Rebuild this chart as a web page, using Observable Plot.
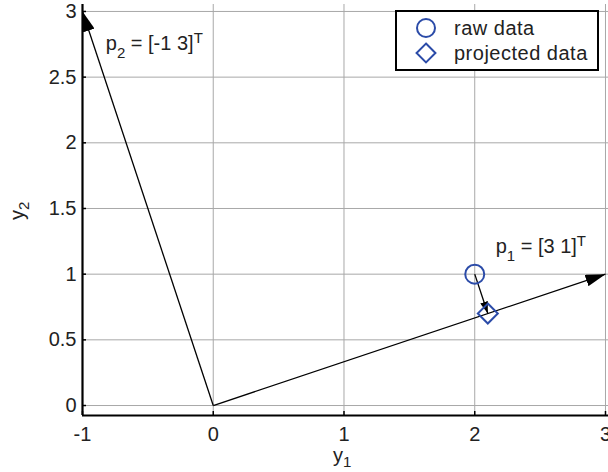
<!DOCTYPE html>
<html><head><meta charset="utf-8">
<script src="https://cdn.jsdelivr.net/npm/d3@7"></script>
<script src="https://cdn.jsdelivr.net/npm/@observablehq/plot@0.6"></script>
<style>
body{margin:0;background:#fff;}
#wrap{position:relative;width:608px;height:472px;font-family:"Liberation Sans",Arial,sans-serif;}
#legend{position:absolute;left:395px;top:10px;width:200px;height:57px;border:2px solid #000;background:#fff;}
#legend .row{position:absolute;left:0;height:24px;display:flex;align-items:center;font-size:20px;letter-spacing:0.5px;color:#222;white-space:nowrap;}
#legend svg{margin-left:18px;margin-right:17px;}
</style></head><body><div id="wrap"><div id="legend"></div></div>
<script>
// ---- data ----
const xDomain = [-1, 3.023];
const yDomain = [-0.076, 3.053];
const xTicks = [-1, 0, 1, 2, 3];
const yTicks = [0, 0.5, 1, 1.5, 2, 2.5, 3];
const basisNames = ["1", "2"];
const basisLabels = ["[3 1]", "[-1 3]"];
const basisX = [3, -1];
const basisY = [1, 3];
const rawX = [2];
const rawY = [1];
const projX = [2.1];
const projY = [0.7];
const labelX = [2.164, -0.818];
const labelY = [1.157, 2.703];
const legendNames = ["raw data", "projected data"];
const legendSymbols = ["circle", "diamond"];

const blue = "#2b4ba8";
const gridColor = "#a8a8a8";
const font = '"Liberation Sans", Arial, sans-serif';

function head(len, wid) {
  return () => {
    const m = d3.create("svg:marker")
      .attr("viewBox", `0 ${-wid / 2} ${len} ${wid}`)
      .attr("markerWidth", len).attr("markerHeight", wid)
      .attr("markerUnits", "userSpaceOnUse")
      .attr("orient", "auto").attr("refX", len).attr("refY", 0)
      .attr("fill", "#000").attr("stroke", "none");
    m.append("path").attr("d", `M0,${-wid / 2}L${len},0L0,${wid / 2}Z`);
    return m.node();
  };
}

const basis = basisX.map((v, i) => ({x1: 0, y1: 0, x2: v, y2: basisY[i]}));
const raw = rawX.map((v, i) => ({x: v, y: rawY[i]}));
const proj = projX.map((v, i) => ({x: v, y: projY[i]}));
const projLinks = raw.map((d, i) => ({x1: d.x, y1: d.y, x2: proj[i].x, y2: proj[i].y}));

const plot = Plot.plot({
  width: 608, height: 472,
  marginLeft: 82, marginRight: 0, marginTop: 4, marginBottom: 57,
  style: {fontSize: "20px", fontFamily: font, color: "#222", background: "transparent", overflow: "visible"},
  x: {domain: xDomain, ticks: xTicks, label: null},
  y: {domain: yDomain, ticks: yTicks, label: null},
  marks: [
    Plot.gridX(xTicks, {stroke: gridColor, strokeOpacity: 1, strokeWidth: 1}),
    Plot.gridY(yTicks, {stroke: gridColor, strokeOpacity: 1, strokeWidth: 1}),
    Plot.axisX(xTicks, {tickSize: 0, tickPadding: 11, label: null, fontSize: 20, tickFormat: d => String(d)}),
    Plot.axisX(xTicks, {tickSize: -4, tickFormat: () => "", label: null, stroke: "#000", strokeWidth: 1.5}),
    Plot.axisY(yTicks, {tickSize: 0, tickPadding: 6, label: null, fontSize: 20, tickFormat: d => String(d)}),
    Plot.axisY(yTicks, {tickSize: -4, tickFormat: () => "", label: null, stroke: "#000", strokeWidth: 1.5}),
    Plot.ruleX([xDomain[0]], {stroke: "#000", strokeWidth: 2.2}),
    Plot.ruleY([yDomain[0]], {stroke: "#000", strokeWidth: 2.2}),
    Plot.link(basis, {x1: "x1", y1: "y1", x2: "x2", y2: "y2", stroke: "#000", strokeWidth: 1.3, markerEnd: head(20, 12)}),
    Plot.link(projLinks, {x1: "x1", y1: "y1", x2: "x2", y2: "y2", stroke: "#000", strokeWidth: 1.3, markerEnd: head(12, 8)}),
    Plot.dot(raw, {x: "x", y: "y", r: 9.5, symbol: "circle", stroke: blue, strokeWidth: 2, fill: "none"}),
    Plot.dot(proj, {x: "x", y: "y", r: 9, symbol: "diamond2", stroke: blue, strokeWidth: 2, fill: "none"})
  ]
});

const wrap = document.getElementById("wrap");
wrap.insertBefore(plot, wrap.firstChild);

const sx = plot.scale("x"), sy = plot.scale("y");
const svg = d3.select(plot);

function addText(x, y, transform) {
  const t = svg.append("text")
    .attr("font-size", 20).attr("font-family", font).attr("fill", "#222")
    .attr("text-anchor", "start");
  if (transform) t.attr("transform", transform); else t.attr("x", x).attr("y", y);
  return t;
}

// vector annotations
basisNames.forEach((n, i) => {
  const t = addText(sx.apply(labelX[i]), sy.apply(labelY[i]));
  t.append("tspan").text("p");
  t.append("tspan").attr("dy", 8).attr("font-size", 15).text(n);
  t.append("tspan").attr("dy", -8).text(" = " + basisLabels[i]);
  t.append("tspan").attr("dy", -7).attr("font-size", 15).text("T");
});

// axis labels
const xl = addText(333, 462);
xl.append("tspan").text("y");
xl.append("tspan").attr("dy", 5).attr("font-size", 15).text("1");

const yl = addText(0, 0, "translate(24,220) rotate(-90)");
yl.append("tspan").text("y");
yl.append("tspan").attr("dy", 5).attr("font-size", 15).text("2");

// legend
const leg = d3.select("#legend");
legendNames.forEach((name, i) => {
  const row = leg.append("div").attr("class", "row").style("top", (i === 0 ? 4 : 29) + "px");
  const s = row.append("svg").attr("width", 22).attr("height", 22);
  const sym = legendSymbols[i] === "circle" ? d3.symbolCircle : d3.symbolDiamond2;
  const size = legendSymbols[i] === "circle" ? Math.PI * 9 * 9 : Math.PI * 8.5 * 8.5;
  s.append("path").attr("transform", "translate(11,11)")
    .attr("d", d3.symbol(sym, size)())
    .attr("fill", "none").attr("stroke", blue).attr("stroke-width", 2);
  row.append("span").text(name);
});
</script>
</body></html>
